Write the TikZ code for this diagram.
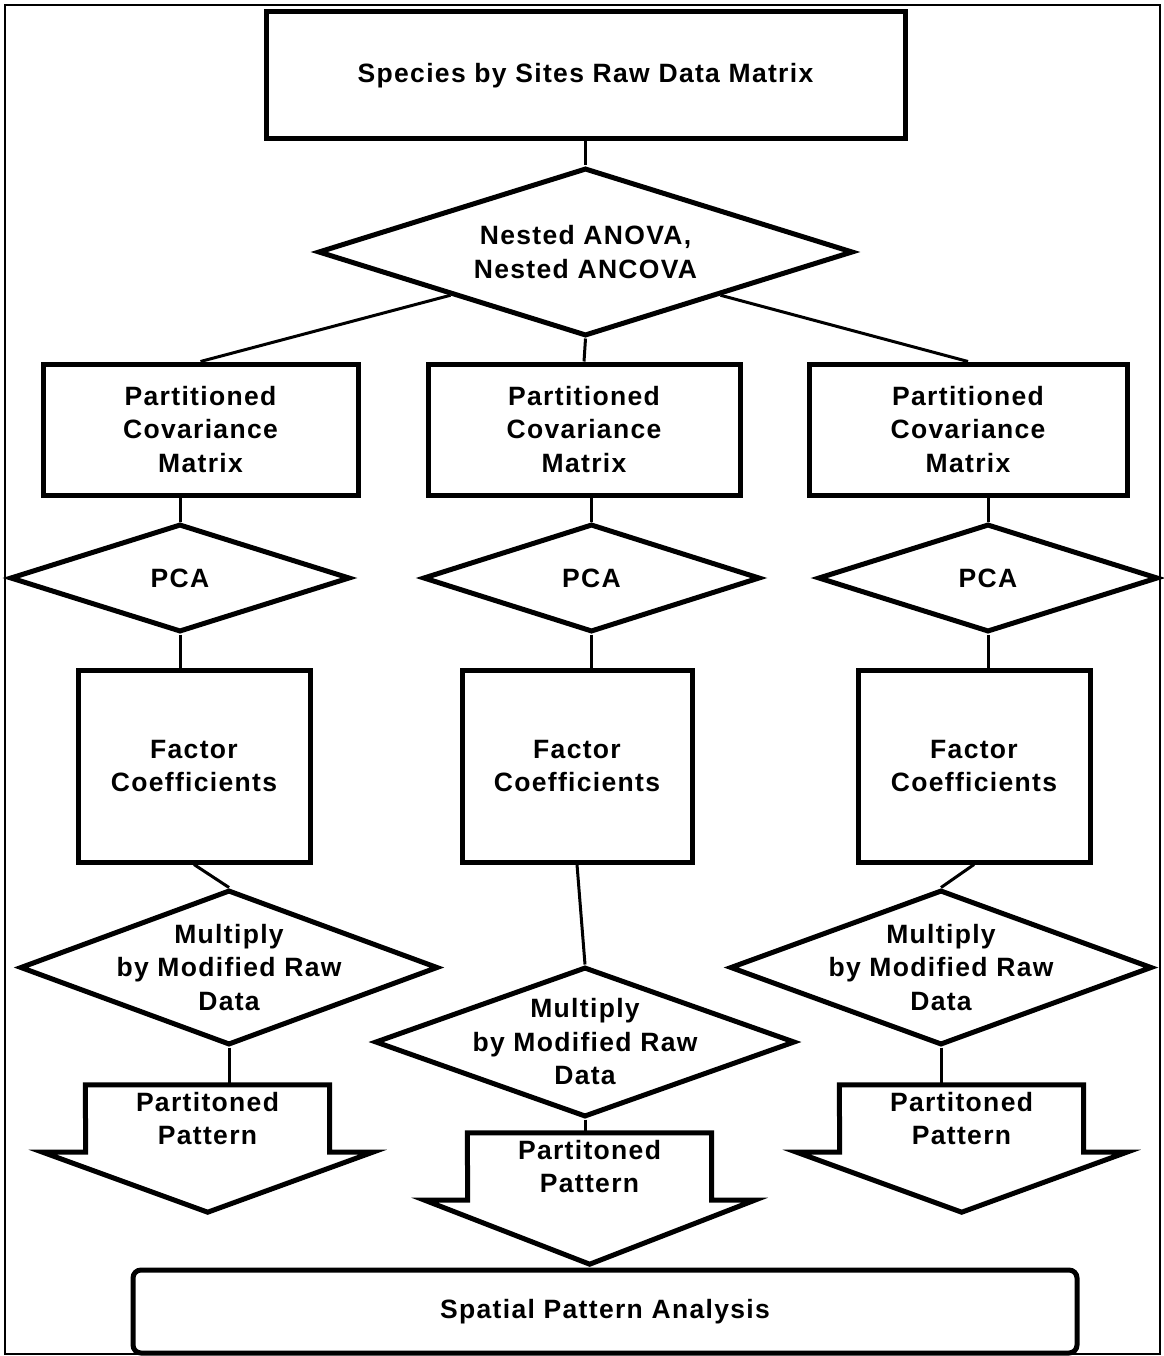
\documentclass[tikz,border=0pt]{standalone}
\usepackage{fontspec}
\setmainfont{Liberation Sans}[LetterSpace=5]
\usetikzlibrary{shapes.geometric}

\tikzstyle{boxNode} = [rectangle, line width=5pt, draw=black, align=center, inner sep=0pt, font=\bfseries\fontsize{26.5}{33.5}\selectfont]
\tikzstyle{diaNode} = [diamond, line width=5pt, draw=black, align=center, inner sep=0pt, font=\bfseries\fontsize{26.5}{33.5}\selectfont]
\tikzstyle{patNode} = [rectangle, minimum width=244pt, minimum height=67pt, align=center, inner sep=0pt, font=\bfseries\fontsize{26.5}{33.5}\selectfont]
\tikzstyle{line} = [line width=3pt]
\tikzstyle{outline} = [line width=5pt, line join=miter]

\begin{document}
\begin{tikzpicture}[x=1pt, y=-1pt]
    \useasboundingbox (0,0) rectangle (1163,1356);
    \draw [line width=2pt] (5,5) rectangle (1160,1354);

    \node (raw)[boxNode, minimum width=639pt, minimum height=127pt] at (585.5,75.5) {Species by Sites Raw Data Matrix};
    \node (anova)[diaNode, aspect=3.2, minimum width=535pt, minimum height=168pt] at (585.5,252) {Nested ANOVA,\\Nested ANCOVA};

    \node (cov1)[boxNode, minimum width=315pt, minimum height=131pt] at (200.5,429.5) {Partitioned\\Covariance\\Matrix};
    \node (cov2)[boxNode, minimum width=312pt, minimum height=131pt] at (584,429.5) {Partitioned\\Covariance\\Matrix};
    \node (cov3)[boxNode, minimum width=318pt, minimum height=131pt] at (968,429.5) {Partitioned\\Covariance\\Matrix};

    \node (pca1)[diaNode, aspect=3.15, minimum width=340pt, minimum height=108pt] at (180,578) {PCA};
    \node (pca2)[diaNode, aspect=3.15, minimum width=337pt, minimum height=108pt] at (591.5,578) {PCA};
    \node (pca3)[diaNode, aspect=3.15, minimum width=340pt, minimum height=108pt] at (988,578) {PCA};

    \node (fac1)[boxNode, minimum width=232pt, minimum height=192pt] at (194,766) {Factor\\Coefficients};
    \node (fac2)[boxNode, minimum width=230pt, minimum height=192pt] at (577,766) {Factor\\Coefficients};
    \node (fac3)[boxNode, minimum width=232pt, minimum height=192pt] at (974,766) {Factor\\Coefficients};

    \node (mul1)[diaNode, aspect=2.7, inner ysep=-20pt, minimum width=418pt, minimum height=155pt] at (229,967.5) {Multiply\\by Modified Raw\\Data};
    \node (mul2)[diaNode, aspect=2.7, inner ysep=-20pt, minimum width=420pt, minimum height=150pt] at (585,1042) {Multiply\\by Modified Raw\\Data};
    \node (mul3)[diaNode, aspect=2.7, inner ysep=-20pt, minimum width=422pt, minimum height=155pt] at (941,967.5) {Multiply\\by Modified Raw\\Data};

    \node (pat1)[patNode] at (207.5,1118.5) {Partitoned\\Pattern};
    \node (pat2)[patNode] at (589.5,1166.5) {Partitoned\\Pattern};
    \node (pat3)[patNode] at (961.5,1118.5) {Partitoned\\Pattern};

    \node (spa)[boxNode, rounded corners=8pt, minimum width=944pt, minimum height=83pt] at (605,1311.5) {Spatial Pattern Analysis};

    \draw [line] (raw) -- (anova);
    \draw [line] (anova.south west) -- (cov1.north);
    \draw [line] (anova.south) -- (cov2.north);
    \draw [line] (anova.south east) -- (cov3.north);

    \draw [line] (pca1.north) -- (pca1.north |- cov1.south);
    \draw [line] (pca2.north) -- (pca2.north |- cov2.south);
    \draw [line] (pca3.north) -- (pca3.north |- cov3.south);
    \draw [line] (pca1.south) -- (pca1.south |- fac1.north);
    \draw [line] (pca2.south) -- (pca2.south |- fac2.north);
    \draw [line] (pca3.south) -- (pca3.south |- fac3.north);

    \draw [line] (fac1.south) -- (mul1.north);
    \draw [line] (fac2.south) -- (mul2.north);
    \draw [line] (fac3.south) -- (mul3.north);

    \draw [line] (mul1.south) -- (mul1.south |- pat1.north);
    \draw [line] (mul2.south) -- (mul2.south |- pat2.north);
    \draw [line] (mul3.south) -- (mul3.south |- pat3.north);

    % block arrows round the pattern nodes
    \draw [outline] (pat1.north west) -- (pat1.north east) -- (pat1.south east) -- ++(43,0) -- ++(-165,60) -- ++(-165,-60) -- ++(43,0) -- cycle;
    \draw [outline] (pat2.north west) -- (pat2.north east) -- (pat2.south east) -- ++(43,0) -- ++(-165,64) -- ++(-165,-64) -- ++(43,0) -- cycle;
    \draw [outline] (pat3.north west) -- (pat3.north east) -- (pat3.south east) -- ++(43,0) -- ++(-165,60) -- ++(-165,-60) -- ++(43,0) -- cycle;

\end{tikzpicture}
\end{document}
